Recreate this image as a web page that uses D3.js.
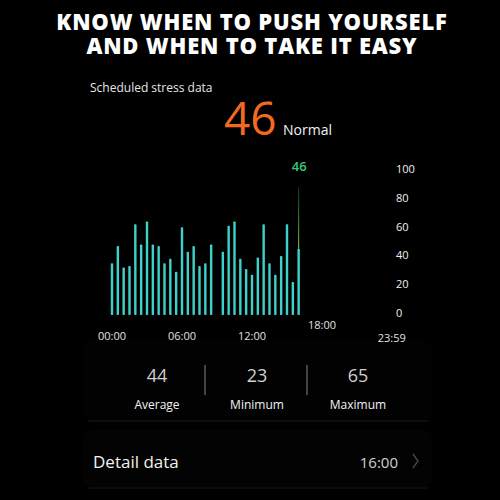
<!DOCTYPE html>
<html>
<head>
<meta charset="utf-8">
<script src="https://cdn.jsdelivr.net/npm/d3@7"></script>
<style>
  html, body { margin: 0; padding: 0; background: #000; }
  svg { display: block; font-family: "Open Sans", "Noto Sans", sans-serif; }
</style>
</head>
<body>
<div id="chart"></div>
<script>
// half-hour stress readings from 00:00 to 16:00 (null = no reading)
const stressValues = [36, 48, 33, 34, 63, 49, 65, 49, 48, 36, 39, 30, 61, 44, 48, 34, 36, 49,
    null, 44, 62, 65, 39, 32, 28, 40, 63, 36, 28, 41, 63, 23, 46];
const yTicks = [0, 20, 40, 60, 80, 100];
const xTicks = [
    { hour: 0, label: "00:00" },
    { hour: 6, label: "06:00" },
    { hour: 12, label: "12:00" },
    { hour: 18, label: "18:00" },
    { hour: 23.98, label: "23:59" }
];
const summaryValues = [44, 23, 65];
const summaryLabels = ["Average", "Minimum", "Maximum"];
const currentValue = 46;
const currentStatus = "Normal";
const detailTime = "16:00";

const width = 500, height = 500;

const svg = d3.select('#chart')
    .append('svg')
    .attr('width', width)
    .attr('height', height)
    .attr('viewBox', [0, 0, width, height]);

svg.append('rect').attr('width', width).attr('height', height).attr('fill', '#000');

// very faint cards behind the stats and the detail row
svg.append('rect')
    .attr('x', 83).attr('y', 340).attr('width', 349).attr('height', 81)
    .attr('rx', 10).attr('fill', '#020202');
svg.append('line')
    .attr('x1', 88).attr('x2', 428).attr('y1', 421).attr('y2', 421)
    .attr('stroke', '#1c1c1c').attr('stroke-width', 1.2);
svg.append('rect')
    .attr('x', 83).attr('y', 430).attr('width', 349).attr('height', 58)
    .attr('rx', 10).attr('fill', '#030303');
svg.append('line')
    .attr('x1', 88).attr('x2', 428).attr('y1', 488).attr('y2', 488)
    .attr('stroke', '#171717').attr('stroke-width', 1.2);

// Title
const title = svg.append('text')
    .attr('text-anchor', 'middle')
    .attr('fill', '#fff')
    .style('font-family', '"Open Sans", Lato, sans-serif')
    .style('font-weight', 800)
    .style('font-size', '22px')
    .style('letter-spacing', '0.8px');
title.append('tspan').attr('x', 252).attr('y', 30).text('KNOW WHEN TO PUSH YOURSELF');
title.append('tspan').attr('x', 252).attr('y', 54).text('AND WHEN TO TAKE IT EASY');

// Header
svg.append('text')
    .attr('x', 90).attr('y', 92)
    .attr('fill', '#e6e6e6')
    .style('font-size', '12px')
    .text('Scheduled stress data');

svg.append('text')
    .attr('x', 224).attr('y', 135)
    .attr('fill', '#f26a1f')
    .style('font-size', '46px')
    .style('font-weight', 400)
    .text(currentValue);

svg.append('text')
    .attr('x', 283).attr('y', 135)
    .attr('fill', '#f2f2f2')
    .style('font-size', '14px')
    .text(currentStatus);

// Scales
const x = d3.scaleLinear().domain([0, 24]).range([112, 392]);
const y = d3.scaleLinear().domain([0, 100]).range([315, 171]);

const bars = stressValues
    .map((v, i) => ({ hour: i * 0.5, value: v }))
    .filter(d => d.value !== null);

const barWidth = 2.4;
svg.append('g')
    .selectAll('rect')
    .data(bars)
    .join('rect')
    .attr('x', d => x(d.hour) - barWidth / 2)
    .attr('y', d => y(d.value))
    .attr('width', barWidth)
    .attr('height', d => y(0) - y(d.value))
    .attr('rx', 0.8)
    .attr('fill', '#3cd2ca');

// cursor on the latest reading
const last = bars[bars.length - 1];
const grad = svg.append('defs').append('linearGradient')
    .attr('id', 'cursor').attr('x1', 0).attr('x2', 0).attr('y1', 0).attr('y2', 1);
grad.append('stop').attr('offset', '0%').attr('stop-color', '#2fbf6e').attr('stop-opacity', 0.3);
grad.append('stop').attr('offset', '100%').attr('stop-color', '#9ad13a');
svg.append('rect')
    .attr('x', x(last.hour) - 0.5)
    .attr('y', 187)
    .attr('width', 1)
    .attr('height', y(last.value) - 187)
    .attr('fill', 'url(#cursor)');
svg.append('text')
    .attr('x', x(last.hour) + 0.5)
    .attr('y', 171)
    .attr('text-anchor', 'middle')
    .attr('fill', '#38c978')
    .style('font-size', '13px')
    .style('font-weight', 600)
    .text(last.value);

// right axis
svg.append('g')
    .selectAll('text')
    .data(yTicks)
    .join('text')
    .attr('x', 396)
    .attr('y', d => y(d) + 2)
    .attr('fill', '#f0f0f0')
    .style('font-size', '11px')
    .text(d => d);

// time labels (18:00 and 23:59 sit a little off the baseline row)
const xLabelY = { "00:00": 340, "06:00": 340, "12:00": 340, "18:00": 329, "23:59": 342 };
svg.append('g')
    .selectAll('text')
    .data(xTicks)
    .join('text')
    .attr('x', d => x(d.hour))
    .attr('y', d => xLabelY[d.label])
    .attr('text-anchor', 'middle')
    .attr('fill', '#e0e0e0')
    .style('font-size', '11px')
    .text(d => d.label);

// summary
const sx = [157, 257, 358];
svg.append('g')
    .selectAll('text')
    .data(summaryValues)
    .join('text')
    .attr('x', (d, i) => sx[i])
    .attr('y', 382)
    .attr('text-anchor', 'middle')
    .attr('fill', '#cfcfcf')
    .style('font-size', '18px')
    .text(d => d);
svg.append('g')
    .selectAll('text')
    .data(summaryLabels)
    .join('text')
    .attr('x', (d, i) => sx[i])
    .attr('y', 409)
    .attr('text-anchor', 'middle')
    .attr('fill', '#f2f2f2')
    .style('font-size', '12px')
    .text(d => d);
svg.append('g')
    .selectAll('line')
    .data([205, 307])
    .join('line')
    .attr('x1', d => d).attr('x2', d => d)
    .attr('y1', 365).attr('y2', 395)
    .attr('stroke', '#5a5a5a')
    .attr('stroke-width', 1.5);

// detail row
svg.append('text')
    .attr('x', 93).attr('y', 468)
    .attr('fill', '#f2f2f2')
    .style('font-size', '17px')
    .text('Detail data');
svg.append('text')
    .attr('x', 398).attr('y', 468)
    .attr('text-anchor', 'end')
    .attr('fill', '#d0d0d0')
    .style('font-size', '15px')
    .text(detailTime);
svg.append('path')
    .attr('d', 'M413,454 L418,461 L413,468')
    .attr('fill', 'none')
    .attr('stroke', '#4a4a4a')
    .attr('stroke-width', 1.3);
</script>
</body>
</html>
